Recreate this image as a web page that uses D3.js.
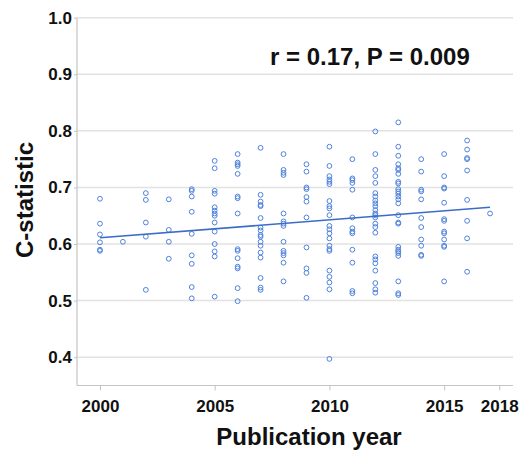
<!DOCTYPE html>
<html>
<head>
<meta charset="utf-8">
<script src="https://cdn.jsdelivr.net/npm/d3@7"></script>
<style>
  html, body { margin: 0; padding: 0; background: #fff; }
  text { font-family: "Liberation Sans", Arial, Helvetica, sans-serif; font-weight: bold; fill: #111; }
</style>
</head>
<body>
<svg id="chart" width="530" height="450"></svg>
<script>
// ---- data ----
const years = [2000, 2001, 2002, 2003, 2004, 2005, 2006, 2007, 2008, 2009, 2010, 2011, 2012, 2013, 2014, 2015, 2016, 2017];
const cStats = [
  [0.680, 0.636, 0.617, 0.603, 0.590, 0.588],
  [0.604],
  [0.690, 0.678, 0.638, 0.613, 0.519],
  [0.679, 0.625, 0.604, 0.574],
  [0.697, 0.694, 0.684, 0.657, 0.618, 0.580, 0.565, 0.524, 0.504],
  [0.747, 0.734, 0.694, 0.689, 0.665, 0.659, 0.654, 0.650, 0.638, 0.622, 0.600, 0.587, 0.578, 0.507],
  [0.759, 0.744, 0.741, 0.738, 0.724, 0.684, 0.681, 0.654, 0.591, 0.588, 0.575, 0.560, 0.557, 0.522, 0.499],
  [0.770, 0.687, 0.675, 0.669, 0.667, 0.646, 0.629, 0.624, 0.616, 0.613, 0.604, 0.597, 0.585, 0.576, 0.540, 0.523, 0.519],
  [0.759, 0.731, 0.726, 0.722, 0.654, 0.640, 0.636, 0.632, 0.604, 0.588, 0.584, 0.580, 0.567, 0.534],
  [0.741, 0.728, 0.700, 0.697, 0.683, 0.675, 0.647, 0.594, 0.557, 0.549, 0.505],
  [0.772, 0.738, 0.720, 0.714, 0.710, 0.706, 0.676, 0.667, 0.663, 0.651, 0.632, 0.626, 0.619, 0.610, 0.597, 0.591, 0.588, 0.553, 0.542, 0.532, 0.520, 0.397],
  [0.750, 0.716, 0.713, 0.708, 0.696, 0.647, 0.628, 0.622, 0.619, 0.590, 0.567, 0.517, 0.513],
  [0.799, 0.759, 0.731, 0.720, 0.708, 0.690, 0.684, 0.677, 0.672, 0.667, 0.660, 0.654, 0.651, 0.647, 0.636, 0.630, 0.620, 0.578, 0.573, 0.566, 0.553, 0.531, 0.520, 0.514],
  [0.815, 0.772, 0.756, 0.741, 0.734, 0.731, 0.724, 0.710, 0.707, 0.697, 0.693, 0.689, 0.684, 0.679, 0.672, 0.651, 0.638, 0.636, 0.595, 0.590, 0.587, 0.584, 0.579, 0.534, 0.513, 0.510],
  [0.750, 0.728, 0.696, 0.693, 0.679, 0.646, 0.630, 0.608, 0.597, 0.581, 0.579],
  [0.759, 0.720, 0.700, 0.698, 0.673, 0.644, 0.641, 0.622, 0.619, 0.608, 0.597, 0.595, 0.534],
  [0.783, 0.767, 0.752, 0.750, 0.730, 0.678, 0.641, 0.610, 0.551],
  [0.654]
];
const trendYears = [2000, 2017];
const trendValues = [0.611, 0.665];
const xTickValues = [2000, 2005, 2010, 2015, 2017.4];
const xTickLabels = ["2000", "2005", "2010", "2015", "2018"];
const yTickValues = [0.4, 0.5, 0.6, 0.7, 0.8, 0.9, 1.0];
const annotation = "r = 0.17, P = 0.009";
const xTitle = "Publication year";
const yTitle = "C-statistic";

// ---- drawing ----
const svg = d3.select("#chart");
const mLeft = 77, mRight = 513, mTop = 17.7, mBottom = 385.5;

const x = d3.scaleLinear().domain([1999, 2018]).range([mLeft, mRight]);
const y = d3.scaleLinear().domain([0.35, 1.0]).range([mBottom, mTop]);

// gridlines
svg.append("g")
  .selectAll("line")
  .data(yTickValues)
  .join("line")
  .attr("x1", mLeft).attr("x2", mRight)
  .attr("y1", d => y(d)).attr("y2", d => y(d))
  .attr("stroke", "#e2e2e2").attr("stroke-width", 1.5);

// y axis
const yAxis = svg.append("g")
  .attr("transform", `translate(${mLeft},0)`)
  .call(d3.axisLeft(y).tickValues(yTickValues).tickFormat(d3.format(".1f")).tickSize(3).tickPadding(2));
yAxis.select(".domain").attr("stroke", "#c4c4c4").attr("stroke-width", 1.2)
  .attr("d", `M0,${mTop}V${mBottom}`);
yAxis.selectAll(".tick line").attr("stroke", "#c4c4c4");
yAxis.selectAll(".tick text").style("font-size", "17px").style("font-family", "Liberation Sans, Arial, sans-serif").style("font-weight", "bold").attr("fill", "#111");

// x axis
const xAxis = svg.append("g")
  .attr("transform", `translate(0,${mBottom})`)
  .call(d3.axisBottom(x).tickValues(xTickValues).tickFormat((d, i) => xTickLabels[i]).tickSize(5).tickPadding(9));
xAxis.select(".domain").attr("stroke", "#c4c4c4").attr("stroke-width", 1.2)
  .attr("d", `M${mLeft},0H${mRight}`);
xAxis.selectAll(".tick line").attr("stroke", "#c4c4c4");
xAxis.selectAll(".tick text").style("font-size", "17px").style("font-family", "Liberation Sans, Arial, sans-serif").style("font-weight", "bold").attr("fill", "#111");

// points
const pts = [];
years.forEach((yr, i) => cStats[i].forEach(v => pts.push({ yr, v })));
svg.append("g")
  .selectAll("circle")
  .data(pts)
  .join("circle")
  .attr("cx", d => x(d.yr))
  .attr("cy", d => y(d.v))
  .attr("r", 2.4)
  .attr("fill", "none")
  .attr("stroke", "#4f82dc")
  .attr("stroke-width", 1);

// trend line
const trend = trendYears.map((t, i) => [t, trendValues[i]]);
svg.append("path")
  .datum(trend)
  .attr("d", d3.line().x(d => x(d[0])).y(d => y(d[1])))
  .attr("fill", "none")
  .attr("stroke", "#3a6cc8")
  .attr("stroke-width", 1.6);

// annotation
svg.append("text")
  .attr("x", 270).attr("y", 64.5)
  .style("font-size", "24px")
  .text(annotation);

// axis titles
svg.append("text")
  .attr("x", 309).attr("y", 445)
  .attr("text-anchor", "middle")
  .style("font-size", "24px")
  .text(xTitle);

svg.append("text")
  .attr("transform", `translate(33,200) rotate(-90)`)
  .attr("text-anchor", "middle")
  .style("font-size", "24px")
  .text(yTitle);
</script>
</body>
</html>
